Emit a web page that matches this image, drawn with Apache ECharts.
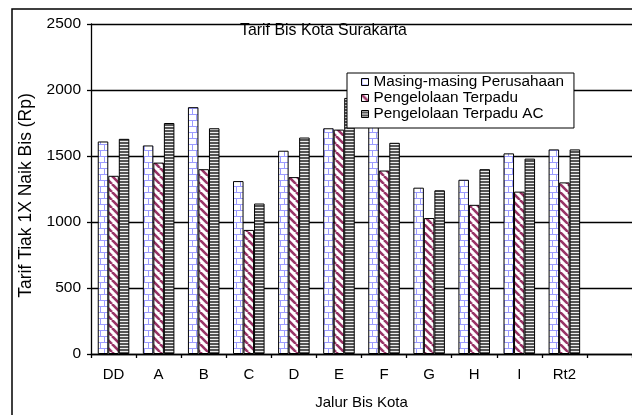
<!DOCTYPE html>
<html>
<head>
<meta charset="utf-8">
<style>
  html, body { margin: 0; padding: 0; background: #fff; }
  #chart { width: 632px; height: 415px; }
</style>
<script src="https://cdn.jsdelivr.net/npm/echarts@6/dist/echarts.min.js"></script>
</head>
<body>
<div id="chart"></div>
<script>
// Bus routes (the last slot is an empty category on the axis)
const routes = ['DD', 'A', 'B', 'C', 'D', 'E', 'F', 'G', 'H', 'I', 'Rt2', ''];
// Fare per ride (Rp) under each management scheme
const masingMasing = [1610, 1580, 1870, 1310, 1540, 1710, 1850, 1260, 1320, 1520, 1550, null];
const terpadu      = [1350, 1450, 1400,  940, 1340, 1700, 1390, 1030, 1130, 1230, 1300, null];
const terpaduAC    = [1630, 1750, 1710, 1140, 1640, 1940, 1600, 1240, 1400, 1480, 1550, null];
const seriesNames = ['Masing-masing Perusahaan', 'Pengelolaan Terpadu', 'Pengelolaan Terpadu AC'];

const FONT = 'Liberation Sans, Arial, sans-serif';

function tile(w, h, draw) {
  const c = document.createElement('canvas');
  c.width = w; c.height = h;
  const g = c.getContext('2d');
  draw(g, w, h);
  return { image: c, repeat: 'repeat' };
}

// light blue brick fill
const brick = tile(8, 12, (g, w, h) => {
  g.fillStyle = '#ffffff'; g.fillRect(0, 0, w, h);
  g.fillStyle = '#9c9cff';
  g.fillRect(0, 0, w, 1);
  g.fillRect(0, 6, w, 1);
  g.fillRect(0, 1, 1, 5);
  g.fillRect(4, 7, 1, 5);
});

// maroon downward diagonal stripes
const diagonal = tile(8, 8, (g, w, h) => {
  g.fillStyle = '#ffffff'; g.fillRect(0, 0, w, h);
  g.strokeStyle = '#993366';
  g.lineWidth = 2.6;
  for (let o = -8; o <= 8; o += 8) {
    g.beginPath(); g.moveTo(o, 0); g.lineTo(o + 8, 8); g.stroke();
  }
});

// dark grey horizontal stripes
const stripes = tile(4, 3, (g, w, h) => {
  g.fillStyle = '#555555'; g.fillRect(0, 0, w, h);
  g.fillStyle = '#eeeeee'; g.fillRect(0, 0, w, 1);
});

const fills = [brick, diagonal, stripes];
const values = [masingMasing, terpadu, terpaduAC];

const chart = echarts.init(document.getElementById('chart'), null, { renderer: 'canvas' });

chart.setOption({
  animation: false,
  backgroundColor: '#ffffff',
  textStyle: { fontFamily: FONT, color: '#000' },
  title: {
    text: 'Tarif Bis Kota Surakarta',
    left: 240, top: 23, padding: 0,
    textStyle: { fontFamily: FONT, fontSize: 15.9, fontWeight: 'normal', color: '#000' }
  },
  legend: {
    orient: 'vertical',
    left: 347, top: 73,
    padding: [1, 10, 6, 14],
    itemGap: 0,
    itemWidth: 7, itemHeight: 7,
    icon: 'rect',
    backgroundColor: '#ffffff',
    borderColor: '#000000', borderWidth: 1,
    textStyle: { fontFamily: FONT, fontSize: 15.3, color: '#000', lineHeight: 16 },
    itemStyle: { borderColor: '#000', borderWidth: 1 },
    data: seriesNames
  },
  graphic: [{
    type: 'rect', z: 100, silent: true,
    shape: { x: 12, y: 9, width: 640, height: 420 },
    style: { fill: null, stroke: '#000', lineWidth: 1.5 }
  }],
  grid: { left: 91, top: 24, width: 546, height: 332 },
  xAxis: {
    type: 'category',
    data: routes,
    name: 'Jalur Bis Kota',
    nameLocation: 'middle',
    nameGap: 41,
    nameTextStyle: { fontFamily: FONT, fontSize: 15, color: '#000' },
    axisLine: { lineStyle: { color: '#000', width: 1.3 } },
    axisTick: { show: true, length: 4, lineStyle: { color: '#000', width: 1.3 } },
    axisLabel: { fontFamily: FONT, fontSize: 15, color: '#000', margin: 13, interval: 0 },
    splitLine: { show: false }
  },
  yAxis: {
    type: 'value',
    min: 0, max: 2500, interval: 500,
    name: 'Tarif Tiak 1X Naik Bis (Rp)',
    nameLocation: 'middle',
    nameGap: 51,
    nameRotate: 90,
    nameTextStyle: { fontFamily: FONT, fontSize: 17.5, color: '#000', padding: [0, 13, 0, 0] },
    axisLine: { show: true, lineStyle: { color: '#000', width: 1.3 } },
    axisTick: { show: true, length: 4, lineStyle: { color: '#000', width: 1.3 } },
    axisLabel: {
      fontFamily: FONT, fontSize: 15.5, color: '#000', margin: 10,
      formatter: v => String(v)
    },
    splitLine: { show: true, lineStyle: { color: '#000', width: 1.3 } }
  },
  series: seriesNames.map((name, i) => ({
    name,
    type: 'bar',
    data: values[i],
    barGap: '0%',
    barCategoryGap: '30%',
    itemStyle: { color: fills[i], borderColor: '#000', borderWidth: 1 }
  }))
});
</script>
</body>
</html>
